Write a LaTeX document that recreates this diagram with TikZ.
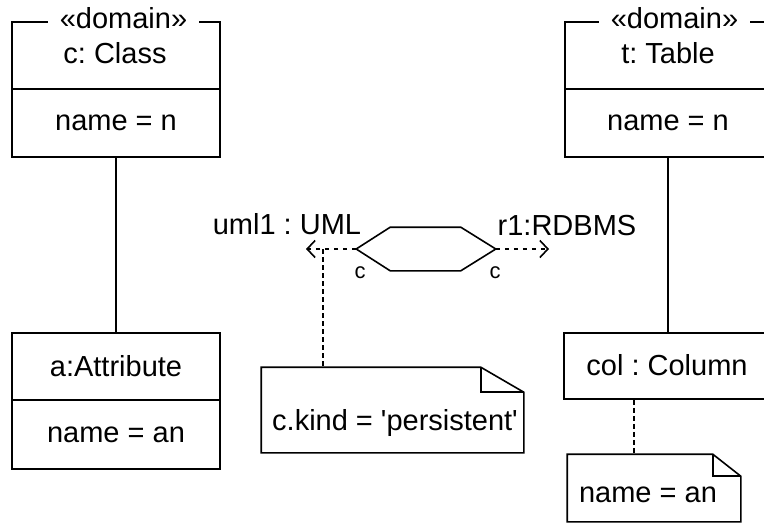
\documentclass[tikz,border=0pt]{standalone}
\usepackage{fontspec}
\setmainfont{Liberation Sans}
\usetikzlibrary{arrows.meta,calc}
\frenchspacing

\begin{document}
\begin{tikzpicture}[x=1pt,y=-1pt, line width=1.6pt,
  box/.style={draw, inner sep=0pt, font=\fontsize{29}{35}\selectfont},
  lbl/.style={font=\fontsize{29}{35}\selectfont, inner sep=0pt},
  small/.style={font=\fontsize{22}{26}\selectfont, inner sep=0pt},
  stereo/.style={font=\fontsize{29}{35}\selectfont, fill=white, inner xsep=12pt, inner ysep=0pt},
  dep/.style={dash pattern=on 4pt off 5pt, -{Straight Barb[length=8pt,width=17pt,line width=1.6pt]}},
  link/.style={dash pattern=on 5pt off 3pt},
  notebox/.style={inner sep=0pt}]
\useasboundingbox (0,0) rectangle (764,523);
\clip (0,0) rectangle (764,523);

% left class object
\node[box, minimum width=208pt, minimum height=67pt] (cls) at (116,55.5) {};
\node[lbl] (clsname) at (115,53) {c: Class};
\node[stereo] (st1) at (123.5,18) {«domain»};
\node[box, minimum width=208pt, minimum height=68pt] (clsattr) at (116,123) {name = n};

\node[box, minimum width=208pt, minimum height=67pt] (attr) at (116,366.5) {a:Attribute};
\node[box, minimum width=208pt, minimum height=69pt] (attrval) at (116,434.5) {name = an};

% right table object
\node[box, minimum width=206pt, minimum height=67pt] (tbl) at (668,55.5) {};
\node[lbl] (tblname) at (668,53) {t: Table};
\node[stereo] (st2) at (674.5,18) {«domain»};
\node[box, minimum width=206pt, minimum height=68pt] (tblattr) at (668,123) {name = n};

\node[box, minimum width=208pt, minimum height=66pt] (col) at (668,366) {};
\node[lbl] (colname) at (667,365) {col : Column};

% links
\draw (clsattr.south) -- (attr.north);
\draw (tblattr.south) -- (col.north);

% relation hexagon
\node[notebox, minimum width=138pt, minimum height=42pt] (hex) at (426,249) {};
\draw (hex.west) -- ($(hex.north west)+(34,0)$) -- ($(hex.north east)+(-35,0)$)
  -- (hex.east) -- ($(hex.south east)+(-35,0)$) -- ($(hex.south west)+(34,0)$) -- cycle;

\coordinate (umlend) at (306,249);
\coordinate (rdbend) at (549,249);
\draw[dep] (hex.west) -- (umlend);
\draw[dep] (hex.east) -- (rdbend);

\node[lbl] (umllbl) at (287,224) {uml1 : UML};
\node[lbl] (rdblbl) at (567,226) {r1:RDBMS};
\node[small] (cl) at (360,273) {c};
\node[small] (cr) at (495,273) {c};

% note 1
\node[notebox, minimum width=261pt, minimum height=84pt] (note1) at (392.5,410) {};
\draw (note1.north west) -- ($(note1.north east)+(-43,0)$) -- ($(note1.north east)+(0,25)$)
  -- (note1.south east) -- (note1.south west) -- cycle;
\draw ($(note1.north east)+(-43,0)$) |- ($(note1.north east)+(0,25)$);
\node[lbl] (note1txt) at (395,423) {c.kind = \textquotesingle persistent\textquotesingle};

\coordinate (hexanc) at (323,249);
\draw[link] (hexanc) -- (hexanc |- note1.north);

% note 2
\node[notebox, minimum width=172pt, minimum height=66pt] (note2) at (654,488) {};
\draw (note2.north west) -- ($(note2.north east)+(-28,0)$) -- ($(note2.north east)+(0,22)$)
  -- (note2.south east) -- (note2.south west) -- cycle;
\draw ($(note2.north east)+(-28,0)$) |- ($(note2.north east)+(0,22)$);
\node[lbl] (note2txt) at (648,495) {name = an};

\coordinate (colanc) at ($(col.south)+(-34,0)$);
\draw[link] (colanc) -- (colanc |- note2.north);
\end{tikzpicture}
\end{document}
